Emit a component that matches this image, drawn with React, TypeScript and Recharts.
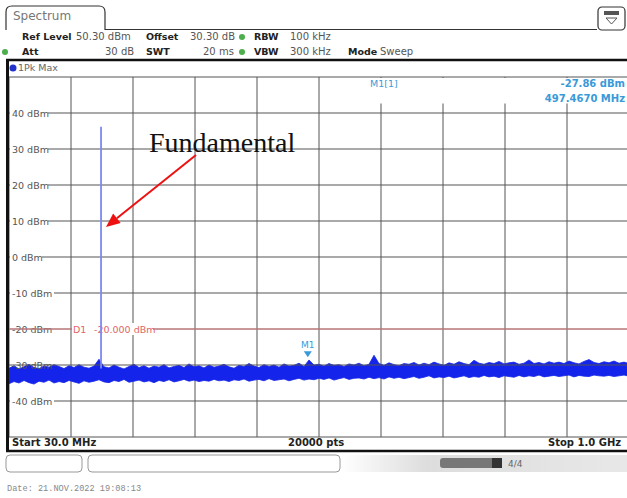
import React from 'react';
import {
  ComposedChart, Area, Line, Scatter, XAxis, YAxis,
  CartesianGrid, ReferenceLine
} from 'recharts';

// sweep settings (from the analyzer header)
const START_MHZ = 30;
const STOP_MHZ = 1000;
const freqTicks = [30, 127, 224, 321, 418, 515, 612, 709, 806, 903, 1000];
const levelTicks = [-50, -40, -30, -20, -10, 0, 10, 20, 30, 40, 50];
const levelLabels = ['', '-40 dBm', '-30 dBm', '-20 dBm', '-10 dBm', '0 dBm', '10 dBm', '20 dBm', '30 dBm', '40 dBm', ''];

// noise floor envelope (125 bins across the span)
const traceMax = [
  -30.9, -30.2, -31.1, -30.5, -29.8, -30.7, -31.0, -30.3, -30.6, -29.9,
  -30.4, -31.0, -30.2, -30.7, -29.9, -30.6, -30.9, -30.3, -28.4, -30.5,
  -30.8, -30.0, -30.6, -31.1, -30.4, -29.8, -30.7, -30.2, -30.9, -30.3,
  -30.6, -29.9, -30.8, -30.4, -30.1, -30.7, -29.7, -30.5, -30.2, -30.8,
  -30.0, -30.6, -30.3, -29.8, -30.5, -30.9, -30.1, -30.4, -29.6, -30.3,
  -30.7, -29.9, -30.4, -30.0, -30.6, -29.7, -30.3, -30.1, -29.5, -30.4,
  -28.6, -30.0, -29.8, -30.3, -29.6, -30.1, -29.9, -30.4, -29.7, -30.0,
  -29.5, -30.2, -29.8, -27.3, -29.6, -30.1, -29.4, -29.9, -30.2, -29.6,
  -29.8, -29.3, -30.0, -29.5, -29.9, -29.2, -29.7, -30.1, -29.4, -29.8,
  -29.1, -29.6, -29.9, -28.7, -29.5, -29.8, -29.3, -29.6, -29.0, -29.7,
  -29.4, -29.2, -29.8, -29.5, -28.6, -29.6, -29.3, -29.7, -29.1, -29.5,
  -29.2, -29.6, -28.9, -29.4, -29.7, -29.0, -28.5, -29.3, -29.6, -29.1,
  -29.4, -28.9, -29.5, -29.2, -29.6,
];
const traceMin = [
  -35.2, -34.6, -35.0, -34.3, -34.9, -35.3, -34.5, -34.8, -34.2, -35.0,
  -34.6, -34.9, -34.3, -34.7, -35.1, -34.4, -34.8, -34.5, -34.1, -34.7,
  -34.9, -34.3, -34.6, -34.0, -34.8, -34.5, -34.2, -34.7, -34.4, -34.9,
  -34.3, -34.6, -34.1, -34.7, -34.4, -34.0, -34.5, -34.2, -34.6, -34.3,
  -34.5, -34.0, -34.4, -34.2, -34.6, -34.1, -34.3, -33.9, -34.5, -34.2,
  -34.0, -34.4, -33.8, -34.3, -34.1, -33.9, -34.4, -34.0, -33.7, -34.2,
  -33.9, -34.1, -33.7, -34.0, -33.6, -34.2, -33.8, -33.5, -34.0, -33.7,
  -33.6, -33.9, -33.4, -33.8, -33.5, -33.9, -33.3, -33.7, -33.4, -33.8,
  -33.5, -33.2, -33.7, -33.4, -33.0, -33.6, -33.3, -33.5, -33.1, -33.6,
  -33.3, -33.0, -33.5, -33.2, -33.4, -32.9, -33.3, -33.1, -33.5, -33.0,
  -33.2, -33.4, -32.9, -33.3, -33.0, -33.2, -32.8, -33.3, -33.1, -32.9,
  -33.2, -33.0, -32.8, -33.3, -32.9, -33.1, -33.2, -32.8, -33.0, -33.1,
  -32.9, -33.2, -33.0, -32.8, -33.1,
];

// fundamental tone at ~174 MHz, ~36 dBm
const fundamental = [
  { f: 174, v: -31 },
  { f: 174, v: 36.2 },
];
const markers = [{ f: 497.467, v: -27.86, name: 'M1' }];
const displayLine = -20;

const binStep = (STOP_MHZ - START_MHZ) / (traceMax.length - 1);
const noiseData = traceMax.map((hi, i) => ({
  f: START_MHZ + i * binStep,
  band: [traceMin[i], hi],
}));

const BLUE = '#1424ea';
const MARK = '#3a9ad9';
const font = '"DejaVu Sans", sans-serif';

// level label drawn on its grid line, white box behind it like the analyzer does
const levelLabel = (text: string, clear: boolean) => (props: any) => {
  const { viewBox } = props;
  if (!text) return <g />;
  const y = viewBox.y;
  return (
    <g>
      {clear && <rect x={10} y={y - 6} width={text.length * 6 + 2} height={12} fill="#fff" />}
      <text x={12} y={y + 3.5} fontSize={9.5} fontFamily={font} fill="#555">{text}</text>
    </g>
  );
};

const MarkerShape = (props: any) => {
  const { cx, cy, payload } = props;
  return (
    <g>
      <polygon points={`${cx - 4},${cy - 6} ${cx + 4},${cy - 6} ${cx},${cy}`} fill={MARK} />
      <text x={cx} y={cy - 9} textAnchor="middle" fontSize={9} fontFamily={font} fill={MARK}>{payload.name}</text>
    </g>
  );
};

const D1Label = (props: any) => {
  const { viewBox } = props;
  const y = viewBox.y;
  return (
    <g>
      <rect x={72} y={y - 6} width={81} height={12} fill="#fff" />
      <text x={73} y={y + 3.5} fontSize={9.5} fontFamily={font} fill="#e06666">D1</text>
      <text x={94} y={y + 3.5} fontSize={9.5} fontFamily={font} fill="#e06666">-20.000 dBm</text>
    </g>
  );
};

const bold = { fontWeight: 'bold', color: '#222', fontSize: 9.5 } as const;
const val = { color: '#555' } as const;
const abs = (x: number, y: number, extra: any = {}) => ({
  position: 'absolute' as const, left: x, top: y, whiteSpace: 'nowrap' as const, ...extra,
});

export default function App() {
  return (
    <div style={{ position: 'absolute', left: 0, top: 0, width: 627, height: 498, overflow: 'hidden', background: '#fff', fontFamily: font, fontSize: 10 }}>
      <div style={{ position: 'absolute', left: 0, top: 0 }}>
        <ComposedChart width={640} height={498} data={noiseData} margin={{ top: 77, right: 11, bottom: 61, left: 9 }}>
          <CartesianGrid stroke="#555" strokeWidth={1} horizontal={false} vertical />
          <XAxis dataKey="f" type="number" domain={[START_MHZ, STOP_MHZ]} ticks={freqTicks} hide allowDataOverflow />
          <YAxis type="number" domain={[-50, 50]} ticks={levelTicks} hide allowDataOverflow />
          {levelTicks.map((lv, i) => (
            <ReferenceLine
              key={lv}
              y={lv}
              stroke="#555"
              strokeWidth={1}
              label={levelLabel(levelLabels[i], lv !== -20 && lv !== -30)}
            />
          ))}
          <ReferenceLine y={displayLine} stroke="#e88888" strokeWidth={1.2} label={<D1Label />} />
          <Line data={fundamental} dataKey="v" stroke="#7c88f0" strokeWidth={1.8} dot={false} activeDot={false} isAnimationActive={false} />
          <Area dataKey="band" type="linear" stroke={BLUE} strokeWidth={0.8} fill={BLUE} fillOpacity={1} dot={false} activeDot={false} isAnimationActive={false} />
          <Scatter data={markers} dataKey="v" fill={MARK} shape={<MarkerShape />} isAnimationActive={false} />
        </ComposedChart>
      </div>

      {/* header */}
      <div style={abs(13, 9, { fontSize: 12, color: '#777' })}>Spectrum</div>
      <div style={abs(22, 31)}><span style={bold}>Ref Level</span></div>
      <div style={abs(76, 31, val)}>50.30 dBm</div>
      <div style={abs(146, 31)}><span style={bold}>Offset</span></div>
      <div style={abs(190, 31, val)}>30.30 dB</div>
      <div style={abs(254, 31)}><span style={bold}>RBW</span></div>
      <div style={abs(290, 31, val)}>100 kHz</div>
      <div style={abs(22, 46)}><span style={bold}>Att</span></div>
      <div style={abs(105, 46, val)}>30 dB</div>
      <div style={abs(146, 46)}><span style={bold}>SWT</span></div>
      <div style={abs(203, 46, val)}>20 ms</div>
      <div style={abs(254, 46)}><span style={bold}>VBW</span></div>
      <div style={abs(290, 46, val)}>300 kHz</div>
      <div style={abs(348, 46)}><span style={bold}>Mode</span></div>
      <div style={abs(380, 46, val)}>Sweep</div>
      <div style={abs(18, 62, { fontSize: 9.5, color: '#666' })}>1Pk Max</div>

      {/* footer */}
      <div style={abs(12, 437, { fontWeight: 'bold', color: '#222' })}>Start 30.0 MHz</div>
      <div style={abs(288, 437, { fontWeight: 'bold', color: '#222' })}>20000 pts</div>
      <div style={abs(548, 437, { fontWeight: 'bold', color: '#222' })}>Stop 1.0 GHz</div>
      <div style={abs(7, 484, { fontFamily: '"Liberation Mono", monospace', fontSize: 8.6, color: '#888' })}>Date: 21.NOV.2022  19:08:13</div>

      <svg width={627} height={498} style={{ position: 'absolute', left: 0, top: 0 }}>
        <defs>
          <linearGradient id="bar" x1="0" x2="1" y1="0" y2="0">
            <stop offset="0" stopColor="#fff" />
            <stop offset="0.3" stopColor="#ddd" />
            <stop offset="1" stopColor="#e8e8e8" />
          </linearGradient>
        </defs>
        <path d="M6,30 L6,12 Q6,6 12,6 L99,6 Q105,6 105,12 L105,29.5 L597,29.5" fill="none" stroke="#333" strokeWidth={1.2} />
        <rect x={598} y={7} width={27} height={23} rx={4} fill="#fff" stroke="#333" strokeWidth={1.2} />
        <rect x={604} y={11} width={15} height={4} fill="#555" />
        <polygon points="606,18 617,18 611.5,24" fill="none" stroke="#555" strokeWidth={1} />
        <circle cx={242} cy={37} r={3} fill="#4cae4c" />
        <circle cx={242} cy={52} r={3} fill="#4cae4c" />
        <circle cx={5} cy={52} r={3} fill="#4cae4c" />
        <circle cx={13} cy={68} r={3.5} fill="#2233cc" />
        <line x1={6} x2={627} y1={60} y2={60} stroke="#111" strokeWidth={2.5} />
        <line x1={7.5} x2={7.5} y1={59} y2={452} stroke="#111" strokeWidth={3} />
        <line x1={6} x2={627} y1={451} y2={451} stroke="#111" strokeWidth={2.5} />

        {/* marker readout */}
        <rect x={320} y={78} width={307} height={25.5} fill="#fff" />
        <text x={370} y={87} fontSize={9.5} fontFamily={font} fill={MARK}>M1[1]</text>
        <text x={625} y={87} textAnchor="end" fontSize={10} fontWeight="bold" fontFamily={font} fill={MARK}>-27.86 dBm</text>
        <text x={625} y={102} textAnchor="end" fontSize={10} fontWeight="bold" fontFamily={font} fill={MARK}>497.4670 MHz</text>

        {/* bottom status bar */}
        <rect x={6} y={455} width={76} height={17} rx={4} fill="#fff" stroke="#999" />
        <rect x={88} y={455} width={252} height={17} rx={4} fill="#fff" stroke="#999" />
        <rect x={341} y={455} width={286} height={17} fill="url(#bar)" />
        <rect x={440} y={458} width={62} height={10} rx={3} fill="#777" />
        <rect x={492} y={458} width={10} height={10} fill="#333" />
        <text x={508} y={467} fontSize={9} fontFamily={font} fill="#666">4/4</text>

        {/* annotation */}
        <text x={149} y={152} fontSize={28} fontFamily='"Liberation Serif", serif' fill="#111">Fundamental</text>
        <line x1={196} y1={155} x2={116.9} y2={218.25} stroke="#ee1111" strokeWidth={2} />
        <polygon points="106,227 120.65,222.9 113.15,213.6" fill="#ee1111" />
      </svg>
    </div>
  );
}
